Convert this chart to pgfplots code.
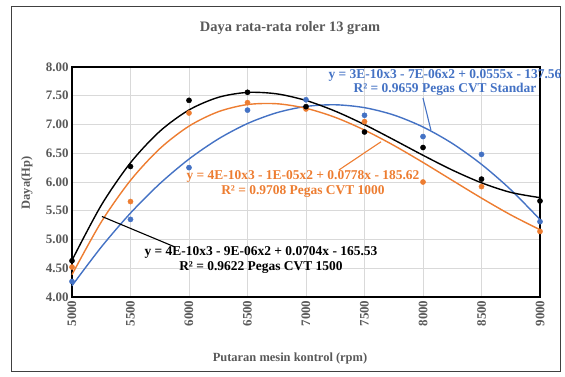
\documentclass[border=0pt]{standalone}
\usepackage{pgfplots}
\pgfplotsset{compat=1.18}
\usepackage{fontspec}
\setmainfont{Liberation Serif}
\definecolor{xlblue}{HTML}{4472C4}
\definecolor{xlorange}{HTML}{ED7D31}
\definecolor{txtgray}{HTML}{595959}
\definecolor{gridgray}{HTML}{D9D9D9}

\pgfplotstableread{
rpm   blk   org   blu
5000  4.63  4.52  4.27
5500  6.27  5.66  5.35
6000  7.42  7.20  6.25
6500  7.56  7.38  7.25
7000  7.31  7.27  7.43
7500  6.87  7.05  7.16
8000  6.60  6.00  6.79
8500  6.05  5.92  6.48
9000  5.67  5.14  5.31
}\datatable

% cubic least-squares trend values
\pgfplotstableread{
rpm   blk    org    blu
5000  4.639  4.389  4.196
5250  5.595  5.304  4.868
5500  6.335  6.028  5.460
5750  6.881  6.579  5.970
6000  7.253  6.972  6.399
6250  7.472  7.222  6.748
6500  7.558  7.347  7.017
6750  7.533  7.361  7.205
7000  7.418  7.282  7.314
7250  7.232  7.124  7.343
7500  6.998  6.903  7.293
7750  6.735  6.637  7.165
8000  6.465  6.340  6.957
8250  6.208  6.029  6.671
8500  5.986  5.720  6.307
8750  5.819  5.428  5.866
9000  5.728  5.170  5.347
}\trendtable

\begin{document}
\begin{tikzpicture}[x=1bp,y=1bp]
\path[use as bounding box] (-72,-79) rectangle (493,297);
\draw[line width=0.9bp, black!75] (-61,-74) rectangle (488,291);
\begin{axis}[at={(0,0)}, anchor=south west, scale only axis,
  width=468bp, height=230bp,
  xmin=5000, xmax=9000, ymin=4, ymax=8,
  xtick={5000,5500,...,9000}, ytick={4,4.5,...,8},
  grid=major, major grid style={gridgray, line width=0.6bp},
  axis line style={line width=1.6bp, black},
  tick style={draw=none},
  /pgf/number format/assume math mode=true,
  xticklabel style={rotate=90, anchor=east, font=\bfseries\fontsize{13}{14}\selectfont, text=txtgray,
     /pgf/number format/1000 sep={}},
  yticklabel style={font=\bfseries\fontsize{13}{14}\selectfont, text=txtgray,
     /pgf/number format/fixed, /pgf/number format/fixed zerofill, /pgf/number format/precision=2},
  clip=false,
]
\addplot[xlblue, line width=1.4bp, smooth, no marks] table[x=rpm,y=blu]{\trendtable};
\addplot[xlorange, line width=1.4bp, smooth, no marks] table[x=rpm,y=org]{\trendtable};
\addplot[black, line width=1.4bp, smooth, no marks] table[x=rpm,y=blk]{\trendtable};
\addplot[only marks, mark=*, mark size=2.6bp, xlorange] table[x=rpm,y=org]{\datatable};
\addplot[only marks, mark=*, mark size=2.6bp, black] table[x=rpm,y=blk]{\datatable};
\addplot[only marks, mark=*, mark size=2.6bp, xlblue] table[x=rpm,y=blu]{\datatable};

% leader lines
\draw[xlblue, line width=1.1bp] (axis cs:8000,7.46) -- (axis cs:8068,6.90);
\draw[xlorange, line width=1.1bp] (axis cs:7282,6.21) -- (axis cs:7641,6.70);
\draw[black, line width=1.1bp] (axis cs:5256,5.40) -- (axis cs:5880,4.87);

% equation labels
\node[xlblue, align=center, font=\bfseries\fontsize{13.5}{15}\selectfont, inner sep=0pt]
  at (axis cs:8188,7.73) {y = 3E-10x3 - 7E-06x2 + 0.0555x - 137.56\\R² = 0.9659 Pegas CVT Standar};
\node[xlorange, align=center, font=\bfseries\fontsize{13.5}{15}\selectfont, inner sep=0pt]
  at (axis cs:6974,5.97) {y = 4E-10x3 - 1E-05x2 + 0.0778x - 185.62\\R² = 0.9708 Pegas CVT 1000};
\node[black, align=center, font=\bfseries\fontsize{13.5}{15}\selectfont, inner sep=0pt]
  at (axis cs:6615,4.65) {y = 4E-10x3 - 9E-06x2 + 0.0704x - 165.53\\R² = 0.9622 Pegas CVT 1500};
\end{axis}
\node[txtgray, font=\bfseries\fontsize{14.5}{16}\selectfont] at (218,269) {Daya rata-rata roler 13 gram};
\node[txtgray, font=\bfseries\fontsize{12.5}{14}\selectfont] at (218,-61) {Putaran mesin kontrol (rpm)};
\node[txtgray, rotate=90, font=\bfseries\fontsize{12.5}{14}\selectfont] at (-45,114) {Daya(Hp)};
\end{tikzpicture}
\end{document}
